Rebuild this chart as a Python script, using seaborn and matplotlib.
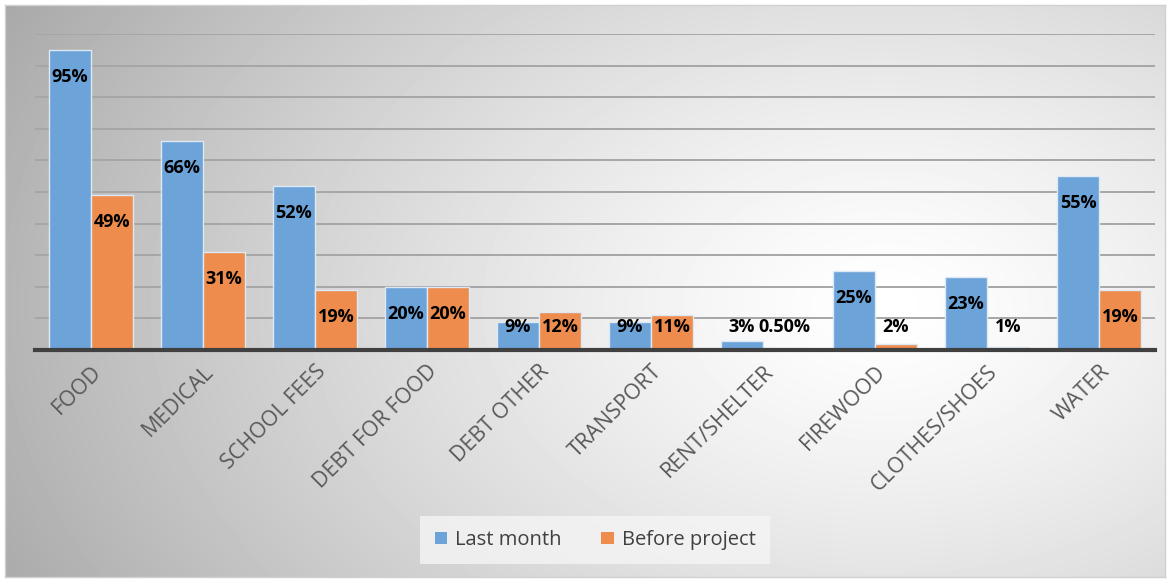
import numpy as np
import pandas as pd
import matplotlib
matplotlib.use('Agg')
import matplotlib.pyplot as plt
import seaborn as sns

# data
categories = ['FOOD', 'MEDICAL', 'SCHOOL FEES', 'DEBT FOR FOOD', 'DEBT OTHER',
              'TRANSPORT', 'RENT/SHELTER', 'FIREWOOD', 'CLOTHES/SHOES', 'WATER']
last_month = [95, 66, 52, 20, 9, 9, 3, 25, 23, 55]
before_project = [49, 31, 19, 20, 12, 11, 0.5, 2, 1, 19]
series = ['Last month', 'Before project']

df = pd.DataFrame({
    'category': categories * 2,
    'series': [series[0]] * len(categories) + [series[1]] * len(categories),
    'value': last_month + before_project,
})

sns.set_style('white')
plt.rcParams['font.family'] = ['Open Sans', 'DejaVu Sans']

W, H = 1175, 579
fig = plt.figure(figsize=(W / 100, H / 100), dpi=100)
fig.patch.set_facecolor('white')

# radial gradient background panel
bg = fig.add_axes([5 / W, 2 / H, 1160 / W, 572 / H])
yy, xx = np.mgrid[0:572, 0:1160]
r = np.sqrt(((xx - 880) / 900.0) ** 2 + ((yy - 300) / 600.0) ** 2)
shade = np.clip(1.0 - 0.30 * r ** 1.3, 0, 1)
bg.imshow(shade, cmap='gray', vmin=0, vmax=1, aspect='auto',
          extent=[0, 1160, 0, 572], origin='upper')
bg.set_xticks([])
bg.set_yticks([])
for s in bg.spines.values():
    s.set_color('#d0d0d0')
    s.set_linewidth(1)
bg.set_zorder(0)

ax = fig.add_axes([35 / W, 229 / H, 1120 / W, 316 / H])
ax.set_zorder(1)
ax.patch.set_alpha(0)

palette = {'Last month': '#6CA3D9', 'Before project': '#EE8C4D'}
sns.barplot(data=df, x='category', y='value', hue='series', order=categories,
            hue_order=series, palette=palette, width=0.75, gap=0,
            edgecolor='#dde9f5', linewidth=1, saturation=1, ax=ax, legend=True)

ax.set_ylim(0, 100)
ax.set_xlim(-0.5, len(categories) - 0.5)
ax.set_yticks(np.arange(10, 101, 10))
ax.set_yticklabels([])
ax.yaxis.grid(True, color='#a6a6a6', linewidth=1.4)
ax.set_axisbelow(True)
ax.tick_params(axis='y', length=0)
ax.tick_params(axis='x', length=0, pad=8)
for s in ['top', 'right', 'left']:
    ax.spines[s].set_visible(False)
ax.spines['bottom'].set_color('#404040')
ax.spines['bottom'].set_linewidth(3)
ax.set_xlabel('')
ax.set_ylabel('')

ax.set_xticks(range(len(categories)))
ax.set_xticklabels(categories, rotation=45, ha='right', va='top',
                   rotation_mode='anchor', fontsize=15.5, color='#595959')

# data labels
for cont, vals in zip(ax.containers, [last_month, before_project]):
    for bar, v in zip(cont, vals):
        txt = f'{v:.2f}%' if v < 1 else f'{v:.0f}%'
        x = bar.get_x() + bar.get_width() / 2
        y = max(v - 8.5, 7.3)
        ax.text(x, y, txt, ha='center', va='center', fontsize=13,
                fontweight='bold', color='black', zorder=5)

leg = ax.legend(loc='center', bbox_to_anchor=(595 / W, 1 - 540 / H),
                bbox_transform=fig.transFigure, ncol=2, frameon=True,
                fontsize=14.5, handlelength=0.6, handleheight=0.6,
                handletextpad=0.4, columnspacing=2.0, borderpad=0.7,
                borderaxespad=0, fancybox=False)
leg.get_frame().set_facecolor('#f5f5f5')
leg.get_frame().set_edgecolor('none')
for t in leg.get_texts():
    t.set_color('#404040')
for h in leg.legend_handles:
    h.set_edgecolor('none')

fig.savefig('out.png', dpi=100)
